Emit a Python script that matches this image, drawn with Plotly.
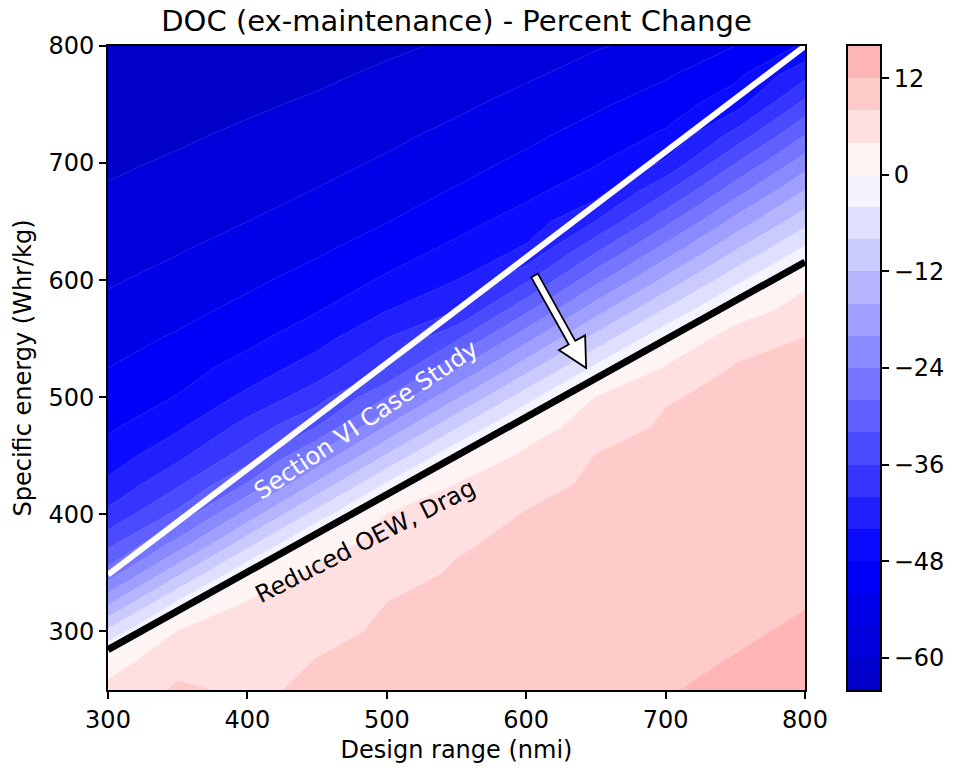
import math
import numpy as np
import plotly.graph_objects as go

# ---------------- data ----------------
design_range_nmi = [300, 350, 400, 450, 500, 550, 600, 650, 700, 750, 800]
specific_energy_whr_kg = [250, 275, 300, 325, 350, 375, 400, 425, 450, 475, 500, 525,
                          550, 575, 600, 625, 650, 675, 700, 725, 750, 775, 800]

# DOC (ex-maintenance) percent change, one list per design range,
# ordered by specific energy (250 -> 800 Whr/kg)
doc_300 = [5.2, 2.0, -6.9, -16.9, -26.5, -33.3, -39.0, -43.0, -46.2, -48.7, -50.3, -52.0,
           -53.5, -55.1, -56.4, -57.5, -58.6, -59.7, -60.5, -61.3, -62.0, -62.8, -63.5]
doc_350 = [8.5, 6.9, 4.2, -3.5, -13.0, -22.5, -31.0, -36.5, -41.0, -44.7, -47.8, -49.7,
           -51.5, -53.2, -54.8, -56.2, -57.4, -58.5, -59.6, -60.5, -61.3, -62.0, -62.8]
doc_400 = [7.5, 6.6, 5.5, 4.3, -0.4, -9.4, -18.4, -27.4, -34.2, -38.6, -43.0, -46.4,
           -49.0, -51.0, -52.8, -54.4, -56.0, -57.2, -58.4, -59.5, -60.5, -61.2, -62.0]
doc_450 = [8.5, 8.1, 7.2, 6.0, 4.9, 2.1, -6.2, -14.8, -23.4, -32.0, -37.8, -42.0,
           -45.5, -48.3, -50.5, -52.5, -54.1, -55.8, -57.1, -58.3, -59.5, -60.6, -61.8]
doc_500 = [9.2, 8.8, 8.4, 8.0, 6.8, 5.4, 4.1, -3.2, -11.5, -19.7, -28.0, -36.2,
           -39.9, -44.2, -47.4, -49.9, -52.1, -53.8, -55.5, -56.9, -58.1, -59.4, -60.6]
doc_550 = [9.9, 9.5, 9.1, 8.7, 8.3, 7.7, 6.2, 4.3, -0.5, -8.5, -16.5, -24.5,
           -32.5, -40.3, -44.0, -46.9, -49.4, -51.6, -53.4, -55.1, -56.7, -58.1, -59.5]
doc_600 = [10.6, 10.2, 9.8, 9.4, 9.0, 8.6, 8.2, 7.0, 5.0, 1.4, -5.7, -13.5,
           -21.2, -29.0, -36.7, -43.3, -46.2, -48.9, -51.1, -53.0, -54.7, -56.5, -58.3]
doc_650 = [11.3, 10.9, 10.5, 10.1, 9.7, 9.3, 8.9, 8.5, 8.1, 6.4, 4.2, -3.0,
           -10.4, -17.8, -25.2, -32.5, -39.9, -45.4, -48.3, -50.5, -52.6, -54.5, -56.3]
doc_700 = [11.9, 11.5, 11.1, 10.7, 10.4, 10.0, 9.6, 9.2, 8.8, 8.4, 7.8, 4.4,
           -0.6, -7.7, -14.9, -22.0, -29.1, -36.2, -43.4, -47.5, -50.0, -52.4, -54.8]
doc_750 = [12.4, 12.1, 11.7, 11.3, 10.9, 10.5, 10.2, 9.8, 9.4, 9.0, 8.6, 8.3,
           6.6, 1.2, -5.1, -11.9, -18.6, -25.4, -32.1, -38.9, -45.6, -48.9, -52.0]
doc_800 = [13.1, 12.7, 12.3, 11.9, 11.4, 11.0, 10.6, 10.2, 9.8, 9.3, 8.9, 8.5,
           8.1, 6.0, 2.9, -2.8, -9.2, -15.5, -21.9, -28.3, -34.7, -41.0, -47.4]

level_start = -64
level_end = 16
level_step = 4

cbar_tick_values = [12, 0, -12, -24, -36, -48, -60]
cbar_tick_labels = ["12", "0", "\u221212", "\u221224", "\u221236", "\u221248", "\u221260"]
x_tick_values = [300, 400, 500, 600, 700, 800]
y_tick_values = [300, 400, 500, 600, 700, 800]

# boundary lines (design range, specific energy)
section_vi_x = [300, 800]
section_vi_y = [348.5, 800]
reduced_oew_x = [300, 800]
reduced_oew_y = [284.5, 615.5]

section_vi_label_xy = (485, 481)
reduced_oew_label_xy = (485, 377)
arrow_tail_xy = (606, 604)
arrow_tip_xy = (643, 525)

# ---------------- geometry ----------------
W, H = 953, 768
ML, MR, MT, MB = 108, 40, 46, 78
PLOT_W = 805 - 108
PLOT_H = 690 - 46
paper_w = W - ML - MR
X0, X1 = 300, 800
Y0, Y1 = 250, 800
FONT = "DejaVu Sans"
TICK_SIZE = 24
LABEL_SIZE = 24
TITLE_SIZE = 29
NOTE_SIZE = 24

# ---------------- colours (seismic, symmetric norm) ----------------
NORM_V = 96.0


def seismic(v):
    t = (v + NORM_V) / (2 * NORM_V)
    t = min(max(t, 0.0), 1.0)
    if t < 0.25:
        r, g, b = 0.0, 0.0, 0.3 + 0.7 * t / 0.25
    elif t < 0.5:
        f = (t - 0.25) / 0.25
        r, g, b = f, f, 1.0
    elif t < 0.75:
        f = (t - 0.5) / 0.25
        r, g, b = 1.0, 1.0 - f, 1.0 - f
    else:
        f = (t - 0.75) / 0.25
        r, g, b = 1.0 - 0.5 * f, 0.0, 0.0
    return "rgb(%d,%d,%d)" % (round(255 * r), round(255 * g), round(255 * b))


n_bands = int(round((level_end - level_start) / level_step))
mids = [level_start + level_step * (i + 0.5) for i in range(n_bands)]
lo = level_start - level_step / 2
hi = level_end + level_step / 2
colorscale = [[0.0, seismic(lo)]]
for m in mids:
    colorscale.append([(m - lo) / (hi - lo), seismic(m)])
colorscale.append([1.0, seismic(hi)])

z = np.array([doc_300, doc_350, doc_400, doc_450, doc_500, doc_550,
              doc_600, doc_650, doc_700, doc_750, doc_800]).T

fig = go.Figure()

fig.add_trace(go.Contour(
    x=design_range_nmi, y=specific_energy_whr_kg, z=z,
    colorscale=colorscale, autocontour=False,
    contours=dict(start=level_start, end=level_end, size=level_step,
                  coloring="fill", showlines=True),
    line=dict(color="rgba(255,255,255,0.25)", width=0.5, smoothing=0),
    showscale=False, hoverinfo="skip",
))

fig.add_trace(go.Scatter(x=section_vi_x, y=section_vi_y, mode="lines",
                         line=dict(color="white", width=6),
                         hoverinfo="skip", showlegend=False))
fig.add_trace(go.Scatter(x=reduced_oew_x, y=reduced_oew_y, mode="lines",
                         line=dict(color="black", width=7),
                         hoverinfo="skip", showlegend=False))

# colour bar drawn as a one-column heatmap
fig.add_trace(go.Heatmap(
    x=[0], y=mids, z=[[m] for m in mids], colorscale=colorscale,
    zmin=lo, zmax=hi, showscale=False, xaxis="x2", yaxis="y2", hoverinfo="skip",
))


# fat arrow as a filled path
def d2p(x, y):
    return ((x - X0) / (X1 - X0) * PLOT_W, (Y1 - y) / (Y1 - Y0) * PLOT_H)


def p2d(px, py):
    return (X0 + px / PLOT_W * (X1 - X0), Y1 - py / PLOT_H * (Y1 - Y0))


tx, ty = d2p(*arrow_tail_xy)
hx, hy = d2p(*arrow_tip_xy)
L = math.hypot(hx - tx, hy - ty)
ux, uy = (hx - tx) / L, (hy - ty) / L
nx, ny = -uy, ux
shaft_w, head_w, head_l = 7.5, 30.0, 29.0
bx, by = hx - ux * head_l, hy - uy * head_l
pts_px = [
    (tx + nx * shaft_w / 2, ty + ny * shaft_w / 2),
    (bx + nx * shaft_w / 2, by + ny * shaft_w / 2),
    (bx + nx * head_w / 2, by + ny * head_w / 2),
    (hx, hy),
    (bx - nx * head_w / 2, by - ny * head_w / 2),
    (bx - nx * shaft_w / 2, by - ny * shaft_w / 2),
    (tx - nx * shaft_w / 2, ty - ny * shaft_w / 2),
]
pts = [p2d(px, py) for px, py in pts_px]
path = "M " + " L ".join("%.3f,%.3f" % p for p in pts) + " Z"

fig.add_shape(type="path", xref="x", yref="y", path=path,
              fillcolor="white", line=dict(color="black", width=1.8), layer="above")

fig.add_annotation(x=section_vi_label_xy[0], y=section_vi_label_xy[1], xref="x", yref="y",
                   text="Section VI Case Study", showarrow=False, textangle=-34,
                   font=dict(family=FONT, size=NOTE_SIZE, color="white"))
fig.add_annotation(x=reduced_oew_label_xy[0], y=reduced_oew_label_xy[1], xref="x", yref="y",
                   text="Reduced OEW, Drag", showarrow=False, textangle=-27,
                   font=dict(family=FONT, size=NOTE_SIZE, color="black"))

axis_common = dict(showline=True, mirror=True, linecolor="black", linewidth=1.8,
                   ticks="outside", ticklen=7, tickwidth=1.8, tickcolor="black",
                   showgrid=False, zeroline=False, automargin=False,
                   tickfont=dict(family=FONT, size=TICK_SIZE, color="black"))

fig.update_layout(
    width=W, height=H,
    margin=dict(l=ML, r=MR, t=MT, b=MB, autoexpand=False),
    paper_bgcolor="white", plot_bgcolor="white",
    showlegend=False,
    font=dict(family=FONT, color="black"),
    title=dict(text="DOC (ex-maintenance) - Percent Change",
               x=(ML + PLOT_W / 2) / W, xref="container", xanchor="center",
               y=1 - 21 / H, yref="container", yanchor="middle",
               automargin=False,
               font=dict(family=FONT, size=TITLE_SIZE, color="black")),
    xaxis=dict(domain=[0, PLOT_W / paper_w], range=[X0, X1], tickvals=x_tick_values,
               title=dict(text="Design range (nmi)", standoff=8,
                          font=dict(family=FONT, size=LABEL_SIZE, color="black")),
               **axis_common),
    yaxis=dict(domain=[0, 1], range=[Y0, Y1], tickvals=y_tick_values,
               title=dict(text="Specific energy (Whr/kg)", standoff=10,
                          font=dict(family=FONT, size=LABEL_SIZE, color="black")),
               **axis_common),
    xaxis2=dict(domain=[(848 - ML) / paper_w, (880 - ML) / paper_w], anchor="y2",
                range=[-0.5, 0.5], showticklabels=False, ticks="",
                showline=True, mirror=True, linecolor="black", linewidth=1.8,
                showgrid=False, zeroline=False, automargin=False),
    yaxis2=dict(domain=[0, 1], anchor="x2", side="right", range=[level_start, level_end],
                tickvals=cbar_tick_values, ticktext=cbar_tick_labels,
                **axis_common),
)

fig.write_html("out.html")
